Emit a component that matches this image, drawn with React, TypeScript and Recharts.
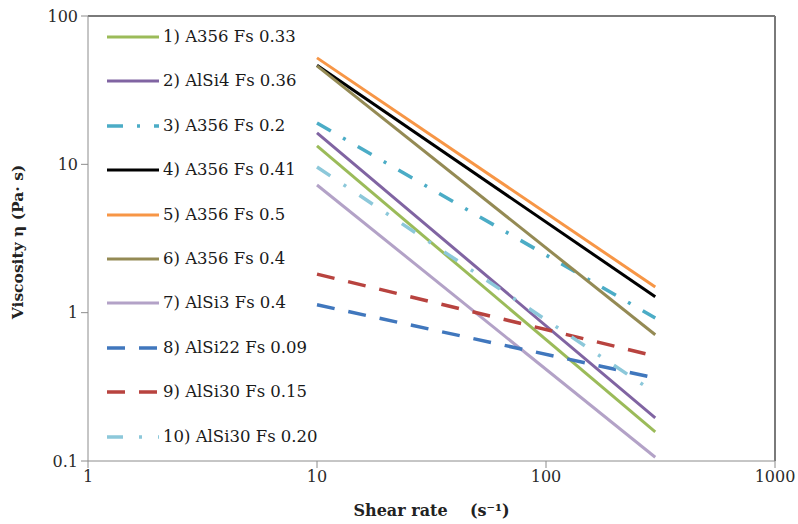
import React from 'react';
import { LineChart, Line, XAxis, YAxis, ReferenceLine } from 'recharts';

// Shear rate range of the fitted power-law lines
const shearRates = [10, 300];

// Viscosity at the start and end of each line (Pa·s)
const s1_A356_033 = [13.3, 0.157];
const s2_AlSi4_036 = [16.3, 0.195];
const s3_A356_02 = [19.0, 0.92];
const s4_A356_041 = [46.5, 1.28];
const s5_A356_05 = [52.2, 1.49];
const s6_A356_04 = [46.1, 0.71];
const s7_AlSi3_04 = [7.26, 0.106];
const s8_AlSi22_009 = [1.13, 0.363];
const s9_AlSi30_015 = [1.82, 0.51];
const s10_AlSi30_020 = [9.6, 0.288];

const seriesNames = [
  '1) A356 Fs 0.33',
  '2) AlSi4 Fs 0.36',
  '3) A356 Fs 0.2',
  '4) A356 Fs 0.41',
  '5) A356 Fs 0.5',
  '6) A356 Fs 0.4',
  '7) AlSi3 Fs 0.4',
  '8) AlSi22 Fs 0.09',
  '9) AlSi30 Fs 0.15',
  '10) AlSi30 Fs 0.20',
];

const xTicks = [1, 10, 100, 1000];
const yTicks = [0.1, 1, 10, 100];

const seriesValues = [
  s1_A356_033, s2_AlSi4_036, s3_A356_02, s4_A356_041, s5_A356_05,
  s6_A356_04, s7_AlSi3_04, s8_AlSi22_009, s9_AlSi30_015, s10_AlSi30_020,
];

const styles = [
  { color: '#9BBB59', dash: undefined, width: 3 },
  { color: '#8064A2', dash: undefined, width: 3 },
  { color: '#4BACC6', dash: '16 14 3 14', width: 3.5 },
  { color: '#000000', dash: undefined, width: 3 },
  { color: '#F79646', dash: undefined, width: 3 },
  { color: '#948A54', dash: undefined, width: 3 },
  { color: '#B3A2C7', dash: undefined, width: 3 },
  { color: '#4077BD', dash: '18 14', width: 3.5 },
  { color: '#B8433F', dash: '18 14', width: 3.5 },
  { color: '#8CC8DA', dash: '16 16 3 16', width: 3.5 },
];

const series = seriesNames.map((name, i) => ({
  name,
  ...styles[i],
  data: shearRates.map((x, j) => ({ x, y: seriesValues[i][j] })),
}));

const FONT = "'DejaVu Serif', serif";

function LegendBox() {
  return (
    <div style={{ position: 'absolute', left: 107, top: 0, fontFamily: FONT, fontSize: 16.5, color: '#1a1a1a' }}>
      {series.map((s, i) => (
        <div
          key={s.name}
          style={{ position: 'absolute', top: 37 + i * 44.4 - 11, left: 0, height: 22, whiteSpace: 'nowrap', display: 'flex', alignItems: 'center' }}
        >
          <svg width={52} height={8} style={{ display: 'block' }}>
            <line x1={0} y1={4} x2={52} y2={4} stroke={s.color} strokeWidth={s.width} strokeDasharray={s.dash} />
          </svg>
          <span style={{ marginLeft: 4, lineHeight: '22px' }}>{s.name}</span>
        </div>
      ))}
    </div>
  );
}

function YTitle() {
  return (
    <div
      style={{
        position: 'absolute',
        left: 18,
        top: 242,
        transform: 'translate(-50%, -50%) rotate(-90deg)',
        whiteSpace: 'nowrap',
        fontFamily: FONT,
        fontSize: 15.5,
        fontWeight: 'bold',
        color: '#222',
        lineHeight: '20px',
      }}
    >
      Viscosity {'\u03B7'} (Pa{'\u00B7'} s)
    </div>
  );
}

export default function App() {
  return (
    <div style={{ position: 'absolute', left: 0, top: 0, width: 798, height: 524, background: '#fff' }}>
      <LineChart width={798} height={524} margin={{ top: 16, right: 23, bottom: 5, left: 0 }}>
        <XAxis
          dataKey="x"
          type="number"
          scale="log"
          domain={[1, 1000]}
          ticks={xTicks}
          allowDataOverflow
          height={58}
          tickSize={7}
          tickMargin={3}
          stroke="#8c8c8c"
          tick={{ fontFamily: FONT, fontSize: 16, fill: '#2a2a2a' }}
          label={{
            value: 'Shear rate\u00a0\u00a0\u00a0\u00a0(s\u207B\u00B9)',
            position: 'insideBottom',
            offset: 3,
            style: { fontFamily: FONT, fontSize: 16, fontWeight: 'bold', fill: '#222' },
          }}
        />
        <YAxis
          type="number"
          scale="log"
          domain={[0.1, 100]}
          ticks={yTicks}
          allowDataOverflow
          width={88}
          tickSize={7}
          tickMargin={3}
          stroke="#8c8c8c"
          tickFormatter={(v: number) => String(v)}
          tick={{ fontFamily: FONT, fontSize: 16, fill: '#2a2a2a' }}
        />
        <ReferenceLine y={100} stroke="#7a7a7a" strokeWidth={2} />
        <ReferenceLine x={1000} stroke="#7a7a7a" strokeWidth={2} />
        {series.map((s) => (
          <Line
            key={s.name}
            data={s.data}
            dataKey="y"
            name={s.name}
            stroke={s.color}
            strokeWidth={s.width}
            strokeDasharray={s.dash}
            dot={false}
            activeDot={false}
            isAnimationActive={false}
          />
        ))}
      </LineChart>
      <LegendBox />
      <YTitle />
    </div>
  );
}
